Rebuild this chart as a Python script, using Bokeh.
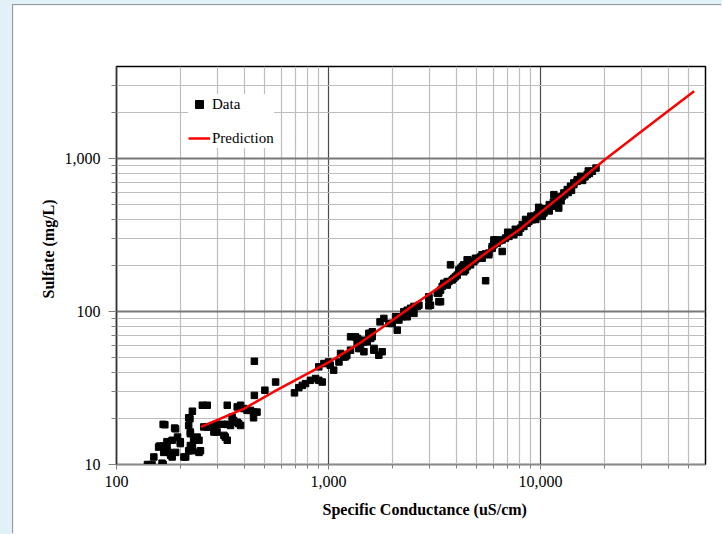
from bokeh.plotting import figure
from bokeh.models import (FixedTicker, NumeralTickFormatter, Legend, LegendItem,
                          Title, Range1d, ColumnDataSource)
from bokeh.layouts import column
from bokeh.embed import file_html
from bokeh.resources import INLINE

# ---------------- data ----------------
data_cond = [
    140, 147, 164, 166, 150, 183, 208, 173, 180, 176, 167, 190, 158, 160, 167, 173,
    183, 194, 200, 200, 173, 169, 166, 188, 190, 219, 222, 219, 228, 223, 223, 231,
    240, 228, 228, 223, 219, 212, 245, 245, 249, 254, 268, 258, 268, 277, 288, 293,
    298, 298, 315, 333, 345, 326, 333, 321, 333, 351, 357, 371, 377, 385, 371, 385,
    398, 413, 428, 443, 460, 443, 447, 447, 501, 563,
    691, 724, 752, 779, 822, 869, 900, 935, 900, 951, 1000, 1019, 1058, 1120, 1140,
    1180, 1203, 1220, 1270, 1271, 1341, 1365, 1371, 1390, 1416, 1443, 1469, 1470,
    1522, 1550, 1578, 1580, 1607, 1610, 1636, 1640, 1727, 1750, 1791, 1824, 1928,
    1997, 2072, 2110, 2148, 2228, 2266, 2308, 2350, 2350, 2438, 2483, 2529, 2529,
    2620, 2669, 2973, 2973, 2973, 3027, 3258, 3311, 3316, 3376, 3376, 3437, 3499,
    3630, 3630, 3697, 3762, 3831, 3900, 3972, 4044, 4120, 4199, 4274, 4348, 4348,
    4427, 4508, 4508, 4540, 4677, 4700, 4845, 4932, 4932, 5114, 5207, 5300, 5306,
    5508, 5500, 5703, 5703, 5914, 5914, 6026, 6026, 6136, 6252, 6400, 6595, 6595,
    6839, 7000, 7096, 7345, 7482, 7482, 7600, 7762, 7900, 8054, 8200, 8345, 8500,
    8650, 8810, 9000, 9139, 9305, 9500, 9646, 9800, 9823, 10000, 10186, 10375,
    10500, 10750, 11000, 11000, 11350, 11500, 11560, 11990, 12000, 12190, 12210,
    12500, 12650, 12890, 13000, 13370, 13500, 13860, 13860, 14000, 14360, 14360,
    14890, 14900, 15450, 15800, 16200, 16600, 16800, 17000, 17550, 18270,
]
data_sulfate = [
    10, 10, 10.2, 10, 11.2, 11.2, 11.2, 12.3, 11.5, 12.0, 12.0, 12.0, 13.0, 13.2, 13.2, 13.4,
    14.4, 15.1, 14.1, 13.7, 14.1, 18.2, 18.3, 17.3, 17.1, 18.0, 19.9, 20.2, 22.3, 16.3, 15.9, 14.4,
    15.1, 13.0, 12.3, 13.3, 12.3, 11.2, 12.0, 14.4, 12.3, 24.4, 24.4, 17.6, 17.6, 17.6, 16.3, 18.0,
    16.3, 18.3, 18.3, 18.3, 18.0, 15.1, 14.4, 15.5, 24.4, 20.4, 19.4, 18.9, 18.5, 18.0, 23.8, 24.4,
    23.2, 22.6, 22.6, 22.0, 22.0, 20.2, 28.3, 47.3, 30.6, 34.6,
    29.4, 31.8, 32.9, 33.8, 35.5, 36.5, 35.5, 34.6, 43.5, 45.7, 46.8, 44.6, 41.4, 46.8, 53.2,
    50.5, 50.6, 51.8, 55.9, 68.4, 68.3, 61.8, 66.7, 57.3, 57.4, 65.0, 54.6, 63.4,
    63.4, 72.0, 71.9, 66.7, 68.4, 73.8, 55.9, 57.4, 51.8, 85.6, 54.6, 90.2, 83.6,
    83.6, 92.4, 75.6, 88.0, 92.4, 99.7, 97.3, 102, 92.4, 105, 102, 97.3, 108,
    108, 110, 122, 109, 125, 110, 132, 132, 116, 116, 138, 146, 153,
    149, 157, 157, 202, 161, 165, 169, 173, 187, 192, 197, 182, 202,
    187, 197, 218, 218, 202, 212, 212, 223, 218, 223, 227, 235, 223,
    159, 238, 241, 235, 266, 259, 273, 294, 294, 280, 290, 247, 294,
    302, 330, 310, 326, 318, 326, 345, 342, 330, 351, 370, 360, 400,
    378, 388, 420, 398, 419, 400, 430, 480, 452, 430, 419, 441,
    470, 464, 455, 500, 488, 520, 581, 499, 560, 475, 538,
    530, 566, 596, 580, 627, 600, 643, 660, 620, 676, 693,
    710, 728, 766, 720, 760, 785, 830, 800, 826, 867,
]
pred_cond = [250, 400, 550, 800, 1000, 1400, 1800, 2700, 4000, 5600, 8000,
             10000, 15000, 20000, 30000, 40000, 53000]
pred_sulfate = [17.6, 23.2, 29.8, 39.4, 46.5, 62, 79, 118, 172, 245, 345,
                445, 700, 980, 1510, 2050, 2760]

x_major = [100, 1000, 10000]
x_minor = [200, 300, 400, 500, 600, 700, 800, 900,
           2000, 3000, 4000, 5000, 6000, 7000, 8000, 9000,
           20000, 30000, 40000, 50000]
y_major = [10, 100, 1000]
y_minor = [20, 30, 40, 50, 60, 70, 80, 90,
           200, 300, 400, 500, 600, 700, 800, 900, 2000, 3000]

FONT = "Liberation Serif"

p = figure(width=709, height=529, x_axis_type="log", y_axis_type="log",
           x_range=Range1d(100, 60000), y_range=Range1d(10, 4000),
           output_backend="svg", toolbar_location=None,
           min_border_left=103, min_border_right=17,
           min_border_top=61, min_border_bottom=70,
           background_fill_color="white", border_fill_color="white")
p.margin = (5, 0, 0, 13)
p.styles = {"box-shadow": "-1px -1px 0 0 #9a9a9a"}

xt = FixedTicker(ticks=x_major, minor_ticks=x_minor)
yt = FixedTicker(ticks=y_major, minor_ticks=y_minor)
p.xaxis.ticker = xt
p.yaxis.ticker = yt
p.xgrid.ticker = xt
p.ygrid.ticker = yt

p.xgrid.grid_line_color = "#4a4a4a"
p.xgrid.grid_line_width = 1.2
p.ygrid.grid_line_color = "#787878"
p.ygrid.grid_line_width = 2
for g in (p.xgrid, p.ygrid):
    g.minor_grid_line_color = "#bdbdbd"
    g.minor_grid_line_width = 1.2

p.outline_line_color = "black"
p.outline_line_width = 1.5

for ax in (p.xaxis, p.yaxis):
    ax.formatter = NumeralTickFormatter(format="0,0")
    ax.major_label_text_font = FONT
    ax.major_label_text_font_size = "16px"
    ax.major_label_text_color = "black"
    ax.major_tick_in = 0
    ax.minor_tick_in = 0
    ax.major_tick_line_color = "#808080"
    ax.minor_tick_line_color = "#808080"

p.xaxis.axis_line_color = "#8a8a8a"
p.xaxis.major_tick_out = 5
p.xaxis.minor_tick_out = 4
p.xaxis.major_label_standoff = 6
p.yaxis.axis_line_color = "#333333"
p.yaxis.axis_line_width = 1.3
p.yaxis.major_tick_out = 8
p.yaxis.minor_tick_out = 5
p.yaxis.major_label_standoff = 8

src = ColumnDataSource(dict(x=data_cond, y=data_sulfate))
r_data = p.scatter(x="x", y="y", source=src, marker="square", size=6.5,
                   fill_color="black", line_color="black")
r_line = p.line(x=pred_cond, y=pred_sulfate, line_color="#ff0000", line_width=2.5)

legend = Legend(items=[LegendItem(label="Data", renderers=[r_data]),
                       LegendItem(label="Prediction", renderers=[r_line])],
                location=(72, 316), background_fill_color="white",
                background_fill_alpha=1, border_line_color=None,
                label_text_font=FONT, label_text_font_size="15px",
                label_text_color="black",
                glyph_width=22, glyph_height=20, label_height=20,
                label_standoff=2, padding=8, spacing=14, margin=0)
p.add_layout(legend)

p.add_layout(Title(text="Sulfate (mg/L)", align="left", offset=166, standoff=9,
                   text_font=FONT, text_font_style="bold", text_font_size="16px",
                   text_color="black"), "left")
p.add_layout(Title(text="Specific Conductance (uS/cm)", align="left", offset=206,
                   standoff=19, text_font=FONT, text_font_style="bold",
                   text_font_size="16px", text_color="black"), "below")

layout = column(p, styles={"background-color": "#e2f0f8"})
open("out.html", "w").write(file_html(layout, INLINE))
